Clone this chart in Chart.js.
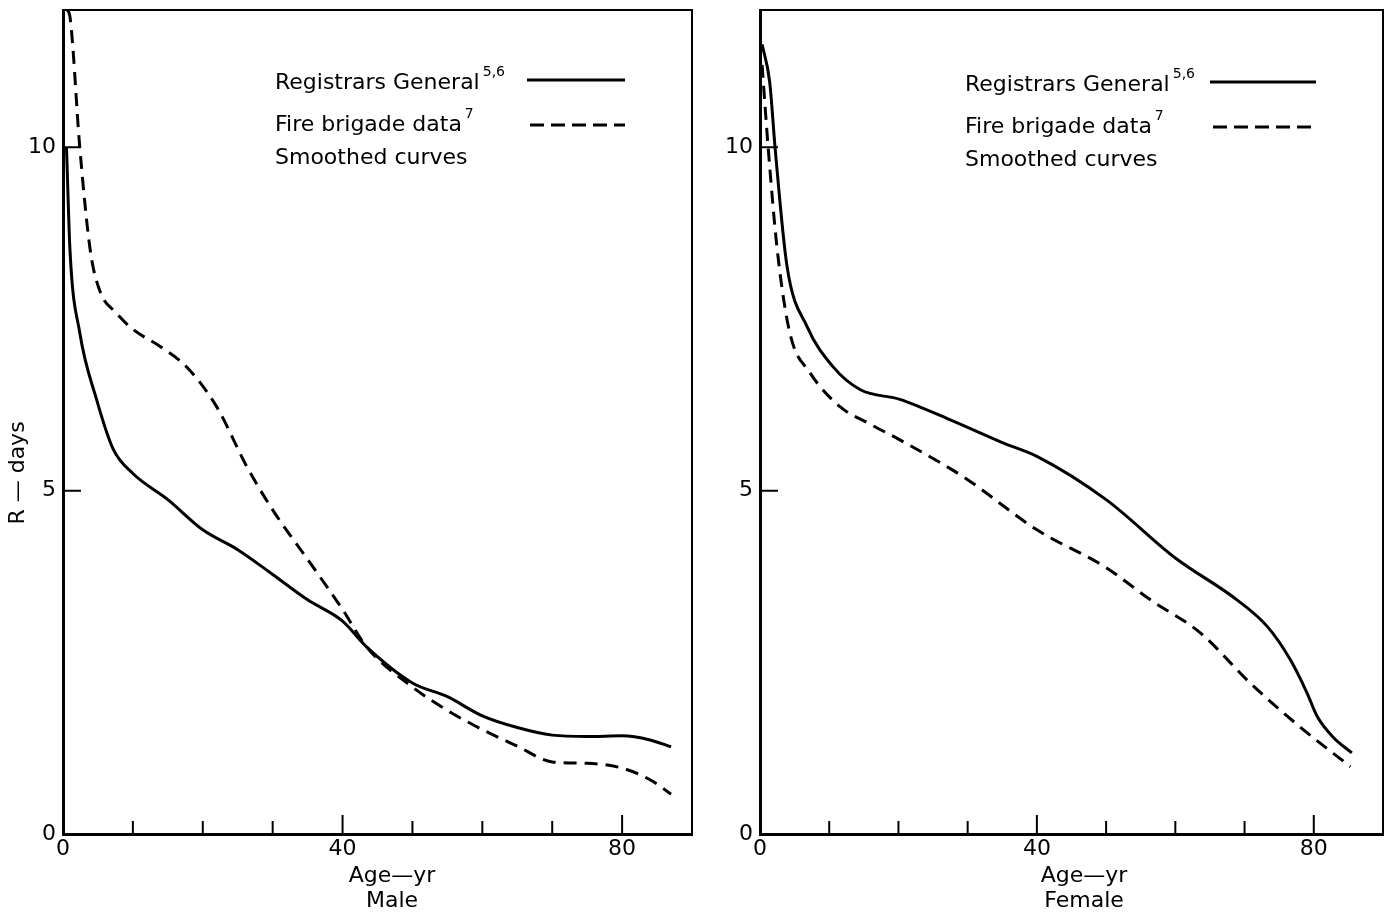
<!DOCTYPE html>
<html>
<head>
<meta charset="utf-8">
<script src="https://cdn.jsdelivr.net/npm/chart.js@4.4.1/dist/chart.umd.min.js"></script>
<style>
  html, body { margin: 0; padding: 0; background: #fff; }
  #wrap { position: relative; width: 1396px; height: 920px; }
  canvas { position: absolute; top: 0; }
</style>
</head>
<body>
<div id="wrap">
  <canvas id="maleChart" width="700" height="920" style="left:0"></canvas>
  <canvas id="femaleChart" width="696" height="920" style="left:700px"></canvas>
</div>
<script>
const FONT = '"DejaVu Sans", sans-serif';

// smoothed curves: age (yr) -> R (days)
const maleRegAges = [0.5, 1, 2.4, 4.8, 7.2, 10, 15, 20, 25, 30, 35, 40, 43.4, 50, 55, 60, 65, 70, 75, 80, 84, 87];
const maleRegR    = [10, 8.5, 7.3, 6.33, 5.6, 5.25, 4.87, 4.43, 4.14, 3.78, 3.41, 3.1, 2.73, 2.2, 2.0, 1.72, 1.55, 1.44, 1.42, 1.43, 1.37, 1.27];

const maleFireAges = [0.6, 1, 2.4, 3.9, 5.3, 7.5, 10, 13.9, 17.7, 22, 26.3, 30, 35, 40, 43.4, 50, 55, 60, 65, 70, 75, 80, 84, 87];
const maleFireR    = [12, 11.9, 10, 8.5, 7.9, 7.6, 7.35, 7.1, 6.8, 6.22, 5.35, 4.72, 4.0, 3.27, 2.73, 2.14, 1.8, 1.52, 1.28, 1.05, 1.03, 0.96, 0.79, 0.58];

const femaleRegAges = [0.3, 1.4, 2.2, 3.9, 6.8, 10.5, 14.5, 20.2, 27.5, 35, 40, 50, 60, 68.9, 73.3, 76.6, 79, 80.5, 82.8, 85.5];
const femaleRegR    = [11.5, 10.95, 9.97, 8.27, 7.39, 6.81, 6.47, 6.33, 6.03, 5.7, 5.5, 4.87, 4.02, 3.41, 3.02, 2.54, 2.06, 1.71, 1.41, 1.18];

const femaleFireAges = [0.3, 1.2, 2.5, 4.3, 7.2, 11.6, 15.5, 20.2, 27, 30, 40, 50, 56.4, 63.6, 70.8, 78, 85.3];
const femaleFireR    = [11.2, 9.97, 8.5, 7.3, 6.72, 6.22, 5.99, 5.74, 5.35, 5.16, 4.43, 3.88, 3.41, 2.93, 2.2, 1.56, 0.98];

const xLabelTicks = [0, 40, 80];
const xMinorTicks = [10, 20, 30, 50, 60, 70];
const yLabelTicks = [0, 5, 10];

function toPoints(xs, ys) {
  return xs.map((x, i) => ({ x: x, y: ys[i] }));
}

function drawSup(ctx, main, sup, x, y) {
  ctx.font = '22px ' + FONT;
  ctx.fillText(main, x, y);
  const w = ctx.measureText(main).width;
  ctx.font = '14px ' + FONT;
  ctx.fillText(sup, x + w + 3, y - 11);
  return x + w + 3 + ctx.measureText(sup).width;
}

// frame, inward ticks, legend block and axis captions
const framePlugin = {
  id: 'frame',
  afterDraw(chart, args, opts) {
    const { ctx, chartArea: a, scales: { x, y } } = chart;
    ctx.save();
    ctx.strokeStyle = '#000';
    ctx.fillStyle = '#000';
    ctx.lineWidth = 2;
    ctx.beginPath();
    ctx.moveTo(a.left, a.top);
    ctx.lineTo(a.right, a.top);
    ctx.lineTo(a.right, a.bottom);
    ctx.stroke();

    ctx.beginPath();
    xLabelTicks.concat(xMinorTicks).forEach(v => {
      if (v === 0) return;
      const px = x.getPixelForValue(v);
      const len = xLabelTicks.includes(v) ? 19 : 13;
      ctx.moveTo(px, a.bottom);
      ctx.lineTo(px, a.bottom - len);
    });
    yLabelTicks.forEach(v => {
      if (v === 0) return;
      const py = y.getPixelForValue(v);
      ctx.moveTo(a.left, py);
      ctx.lineTo(a.left + 18, py);
    });
    ctx.stroke();

    // legend
    ctx.textBaseline = 'middle';
    ctx.textAlign = 'left';
    const lx = opts.legendX;
    let end = drawSup(ctx, 'Registrars General', '5,6', lx, opts.legendY);
    ctx.lineWidth = 3;
    ctx.beginPath();
    ctx.moveTo(Math.max(opts.lineStart, end + 6), opts.legendY - 3);
    ctx.lineTo(opts.lineEnd, opts.legendY - 3);
    ctx.stroke();
    end = drawSup(ctx, 'Fire brigade data', '7', lx, opts.legendY + 42);
    ctx.setLineDash([14, 7]);
    ctx.beginPath();
    ctx.moveTo(Math.max(opts.lineStart + 3, end + 12), opts.legendY + 42);
    ctx.lineTo(opts.lineEnd, opts.legendY + 42);
    ctx.stroke();
    ctx.setLineDash([]);
    ctx.font = '22px ' + FONT;
    ctx.fillText('Smoothed curves', lx, opts.legendY + 75);

    // axis captions
    ctx.textAlign = 'center';
    ctx.fillText('Age\u2014yr', opts.captionX, 876);
    ctx.fillText(opts.sex, opts.captionX, 901);
    if (opts.yTitle) {
      ctx.translate(18, 473);
      ctx.rotate(-Math.PI / 2);
      ctx.fillText(opts.yTitle, 0, 0);
    }
    ctx.restore();
  }
};

function makeChart(id, regAges, regR, fireAges, fireR, yWidth, rightPad, frameOpts) {
  return new Chart(document.getElementById(id), {
    type: 'line',
    data: {
      datasets: [
        {
          label: 'Registrars General',
          data: toPoints(regAges, regR),
          borderColor: '#000',
          borderWidth: 3,
          pointRadius: 0,
          cubicInterpolationMode: 'monotone',
          fill: false
        },
        {
          label: 'Fire brigade data',
          data: toPoints(fireAges, fireR),
          borderColor: '#000',
          borderWidth: 3,
          borderDash: [13, 8],
          pointRadius: 0,
          cubicInterpolationMode: 'monotone',
          fill: false
        }
      ]
    },
    options: {
      responsive: false,
      animation: false,
      devicePixelRatio: 1,
      layout: { padding: { left: 0, top: 10, right: rightPad, bottom: 0 } },
      plugins: {
        legend: { display: false },
        tooltip: { enabled: false },
        frame: frameOpts
      },
      scales: {
        x: {
          type: 'linear',
          min: 0,
          max: 90,
          grid: { display: false, drawTicks: false },
          border: { display: true, color: '#000', width: 3 },
          afterBuildTicks: s => { s.ticks = xLabelTicks.map(v => ({ value: v })); },
          afterFit: s => { s.height = 86; s.paddingLeft = 0; s.paddingRight = 0; },
          ticks: { font: { family: FONT, size: 22 }, color: '#000', padding: 2, maxRotation: 0, autoSkip: false }
        },
        y: {
          type: 'linear',
          min: 0,
          max: 12,
          grid: { display: false, drawTicks: false },
          border: { display: true, color: '#000', width: 3 },
          afterBuildTicks: s => { s.ticks = yLabelTicks.map(v => ({ value: v })); },
          afterFit: s => { s.width = yWidth; s.paddingTop = 0; s.paddingBottom = 0; },
          ticks: { font: { family: FONT, size: 22 }, color: '#000', padding: 7 }
        }
      }
    },
    plugins: [framePlugin]
  });
}

makeChart('maleChart', maleRegAges, maleRegR, maleFireAges, maleFireR, 63, 8,
  { legendX: 275, legendY: 83, lineStart: 527, lineEnd: 625, captionX: 392, sex: 'Male', yTitle: 'R \u2014 days' });
makeChart('femaleChart', femaleRegAges, femaleRegR, femaleFireAges, femaleFireR, 60, 13,
  { legendX: 265, legendY: 85, lineStart: 510, lineEnd: 616, captionX: 384, sex: 'Female' });
</script>
</body>
</html>
